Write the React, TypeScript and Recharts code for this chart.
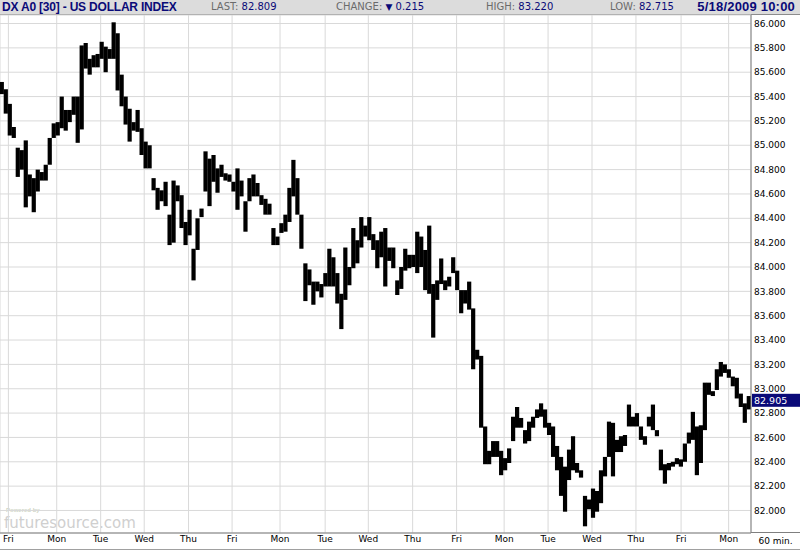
import React from 'react';
import { ComposedChart, Bar, XAxis, YAxis, CartesianGrid, ReferenceLine } from 'recharts';

// 2-hour range bars (high / low)
const barHighs = [
  85.52, 85.46, 85.34, 85.15, 84.98, 84.96, 85.04, 84.76, 84.73, 84.80,
  84.78, 84.84, 85.06, 85.18, 85.19, 85.40, 85.29, 85.29, 85.40, 85.40,
  85.82, 85.84, 85.71, 85.74, 85.75, 85.85, 85.81, 85.79, 86.01, 85.92,
  85.58, 85.40, 85.30, 85.19, 85.29, 85.14, 85.03, 85.00, 84.73, 84.65,
  84.63, 84.70, 84.43, 84.71, 84.67, 84.59, 84.37, 84.47, 84.15, 84.40,
  84.48, 84.95, 84.89, 84.92, 84.81, 84.84, 84.77, 84.76, 84.70, 84.81,
  84.71, 84.54, 84.73, 84.76, 84.69, 84.59, 84.56, 84.52, 84.32, 84.25,
  84.36, 84.43, 84.65, 84.88, 84.73, 84.43, 84.03, 83.98, 83.88, 83.88,
  83.86, 83.95, 84.15, 84.08, 83.95, 83.78, 84.16, 84.00, 84.32, 84.22,
  84.41, 84.34, 84.41, 84.27, 84.22, 84.29, 84.32, 84.16, 84.16, 83.89,
  84.00, 84.15, 84.10, 84.10, 84.29, 84.25, 84.14, 84.34, 83.86, 83.89,
  84.07, 83.89, 83.92, 84.08, 83.97, 83.81, 83.81, 83.88, 83.66, 83.32,
  83.27, 82.69, 82.49, 82.57, 82.57, 82.49, 82.43, 82.51, 82.77, 82.85,
  82.76, 82.66, 82.73, 82.77, 82.83, 82.88, 82.83, 82.72, 82.69, 82.53,
  82.44, 82.36, 82.50, 82.61, 82.39, 82.33, 82.12, 82.09, 82.18, 82.16,
  82.33, 82.44, 82.73, 82.72, 82.58, 82.61, 82.62, 82.87, 82.77, 82.80,
  82.69, 82.61, 82.77, 82.87, 82.66, 82.50, 82.38, 82.39, 82.40, 82.43,
  82.42, 82.55, 82.64, 82.81, 82.69, 82.70, 83.05, 83.05, 82.98, 83.16,
  83.22, 83.20, 83.16, 83.10, 83.09, 82.96, 82.88, 82.94,
];
const barLows = [
  85.42, 85.26, 85.08, 85.06, 84.74, 84.80, 84.49, 84.58, 84.45, 84.62,
  84.71, 84.71, 84.84, 85.06, 85.08, 85.14, 85.12, 85.19, 85.25, 85.02,
  85.13, 85.63, 85.58, 85.64, 85.64, 85.71, 85.60, 85.71, 85.71, 85.45,
  85.32, 85.17, 85.03, 85.12, 85.11, 84.92, 84.81, 84.81, 84.63, 84.47,
  84.54, 84.50, 84.18, 84.20, 84.54, 84.32, 84.18, 84.26, 83.89, 84.14,
  84.41, 84.62, 84.50, 84.70, 84.61, 84.74, 84.71, 84.70, 84.62, 84.47,
  84.58, 84.29, 84.54, 84.58, 84.58, 84.51, 84.43, 84.43, 84.18, 84.18,
  84.28, 84.29, 84.37, 84.58, 84.43, 84.15, 83.72, 83.85, 83.69, 83.80,
  83.75, 83.84, 83.84, 83.84, 83.70, 83.49, 83.73, 83.85, 83.99, 84.03,
  84.16, 84.25, 84.22, 84.14, 83.99, 84.08, 83.84, 84.05, 83.99, 83.77,
  83.82, 83.97, 83.99, 84.00, 83.95, 84.00, 83.81, 83.78, 83.42, 83.73,
  83.86, 83.81, 83.84, 83.95, 83.81, 83.62, 83.70, 83.65, 83.16, 83.24,
  82.68, 82.38, 82.38, 82.44, 82.44, 82.29, 82.33, 82.39, 82.57, 82.68,
  82.68, 82.55, 82.57, 82.68, 82.76, 82.77, 82.68, 82.62, 82.44, 82.33,
  82.12, 81.99, 82.25, 82.33, 82.31, 82.27, 81.87, 82.01, 81.94, 81.99,
  82.06, 82.28, 82.44, 82.28, 82.48, 82.48, 82.53, 82.69, 82.69, 82.69,
  82.58, 82.54, 82.69, 82.66, 82.61, 82.33, 82.22, 82.33, 82.36, 82.38,
  82.36, 82.40, 82.55, 82.58, 82.29, 82.39, 82.66, 82.95, 82.94, 82.99,
  83.10, 83.13, 83.09, 83.02, 82.92, 82.85, 82.72, 82.83,
];

const dayLabels = ['Fri', 'Mon', 'Tue', 'Wed', 'Thu', 'Fri', 'Mon', 'Tue', 'Wed', 'Thu', 'Fri', 'Mon', 'Tue', 'Wed', 'Thu', 'Fri', 'Mon'];
// bar index (fractional) at which each session starts
const dayStartBars = [1.6, 13.7, 24.7, 35.6, 46.7, 57.6, 69.6, 80.9, 91.7, 102.8, 113.8, 125.7, 136.7, 147.7, 158.7, 170.0, 181.9];

const priceTicks = [82.0, 82.2, 82.4, 82.6, 82.8, 83.0, 83.2, 83.4, 83.6, 83.8, 84.0, 84.2, 84.4, 84.6, 84.8, 85.0, 85.2, 85.4, 85.6, 85.8, 86.0];
const lastPrice = 82.905;

const headerTitle = 'DX A0 [30] - US DOLLAR INDEX';
const headerLast = '82.809';
const headerChange = '0.215';
const headerHigh = '83.220';
const headerLow = '82.715';
const headerStamp = '5/18/2009 10:00';
const intervalLabel = '60 min.';

const data = barHighs.map((h, i) => ({ bar: i, range: [barLows[i], h] }));

const NAVY = '#0a0a78';
const GREY_TXT = '#6b6b6b';
const FONT = '"DejaVu Sans", Verdana, sans-serif';
const BOLD_FONT = '"Liberation Sans", Arial, sans-serif';
const SLOT_PX = 4.2;

const LastTag = (props: any) => {
  const vb = props.viewBox || {};
  const right = (vb.x || 0) + (vb.width || 0);
  const y = vb.y || 0;
  return (
    <g>
      <rect x={right + 1} y={y - 6.5} width={48} height={13} fill={NAVY} />
      <text x={right + 3} y={y + 3.5} fill="#fff" fontSize={9.5} fontFamily={FONT}>
        {lastPrice.toFixed(3)}
      </text>
    </g>
  );
};

const RangeShape = (p: any) => {
  const hgt = p.height || 0;
  const h = Math.max(Math.abs(hgt), 1);
  const y = hgt < 0 ? p.y + hgt : p.y;
  const cx = (p.x || 0) + (p.width || 0) / 2;
  return <rect x={cx - SLOT_PX / 2} y={y} width={SLOT_PX} height={h} fill="#000" />;
};

const abs = (extra: any) => ({ position: 'absolute' as const, ...extra });

export default function App() {
  return (
    <div style={{ position: 'absolute', left: 0, top: 0, width: 800, height: 550, background: '#fff', overflow: 'hidden' }}>
      {/* header bar */}
      <div style={abs({ left: 0, top: 0, width: 800, height: 14, background: '#dcdcdc', borderBottom: '1px solid #8c8c8c' })} />
      <div style={abs({ left: 2, top: 0, fontFamily: BOLD_FONT, fontWeight: 'bold', fontSize: 12, letterSpacing: -0.2, color: NAVY, lineHeight: '14px', whiteSpace: 'nowrap' })}>{headerTitle}</div>
      <div style={abs({ left: 211, top: 0, fontFamily: FONT, fontSize: 10, lineHeight: '14px', whiteSpace: 'nowrap' })}>
        <span style={{ color: GREY_TXT }}>LAST: </span><span style={{ color: NAVY }}>{headerLast}</span>
      </div>
      <div style={abs({ left: 336, top: 0, fontFamily: FONT, fontSize: 10, lineHeight: '14px', whiteSpace: 'nowrap' })}>
        <span style={{ color: GREY_TXT }}>CHANGE: </span><span style={{ color: NAVY, fontSize: 9 }}>▼</span><span style={{ color: NAVY }}> {headerChange}</span>
      </div>
      <div style={abs({ left: 486, top: 0, fontFamily: FONT, fontSize: 10, lineHeight: '14px', whiteSpace: 'nowrap' })}>
        <span style={{ color: GREY_TXT }}>HIGH: </span><span style={{ color: NAVY }}>{headerHigh}</span>
      </div>
      <div style={abs({ left: 610, top: 0, fontFamily: FONT, fontSize: 10, lineHeight: '14px', whiteSpace: 'nowrap' })}>
        <span style={{ color: GREY_TXT }}>LOW: </span><span style={{ color: NAVY }}>{headerLow}</span>
      </div>
      <div style={abs({ right: 5, top: 0, fontFamily: BOLD_FONT, fontWeight: 'bold', fontSize: 13, letterSpacing: 0.2, color: NAVY, lineHeight: '14px', whiteSpace: 'nowrap' })}>{headerStamp}</div>

      {/* watermark */}
      <div style={abs({ left: 6, top: 507, fontFamily: BOLD_FONT, fontWeight: 'bold', fontSize: 6, color: '#cfd6c6', whiteSpace: 'nowrap', lineHeight: '7px' })}>Powered by</div>
      <div style={abs({ left: 4, top: 516, fontFamily: FONT, fontSize: 15, color: '#cfcfcf', whiteSpace: 'nowrap', lineHeight: '15px' })}>futuresource.com</div>

      <div style={abs({ left: 0, top: 0 })}>
        <ComposedChart width={800} height={550} data={data} margin={{ top: 15, right: 0, bottom: 1, left: 0 }}>
          <CartesianGrid stroke="#d9d9d9" strokeWidth={1} />
          <XAxis
            dataKey="bar"
            type="number"
            domain={[-0.5, 187.5]}
            ticks={dayStartBars}
            interval={0}
            allowDataOverflow
            tickFormatter={(v: number) => dayLabels[dayStartBars.indexOf(v)] ?? ''}
            height={16}
            axisLine={{ stroke: '#7f7f7f' }}
            tickLine={false}
            tickSize={0}
            tickMargin={3}
            tick={{ fontSize: 9, fill: '#000', fontFamily: FONT }}
          />
          <YAxis
            orientation="right"
            type="number"
            domain={[81.815, 86.07]}
            ticks={priceTicks}
            interval={0}
            allowDataOverflow
            tickFormatter={(v: number) => v.toFixed(3)}
            width={49}
            axisLine={{ stroke: '#7f7f7f' }}
            tickLine={false}
            tickSize={0}
            tickMargin={3}
            tick={{ fontSize: 9, fill: '#000', fontFamily: FONT }}
          />
          <Bar dataKey="range" fill="#000" barSize={4} shape={<RangeShape />} isAnimationActive={false} />
          <ReferenceLine y={lastPrice} stroke="none" label={<LastTag />} />
        </ComposedChart>
      </div>

      {/* axis box lines */}
      <div style={abs({ left: 751, top: 532, width: 49, height: 1, background: '#7f7f7f' })} />
      <div style={abs({ left: 0, top: 549, width: 800, height: 1, background: '#a0a0a0' })} />
      <div style={abs({ left: 751, top: 533, width: 49, height: 16, fontFamily: FONT, fontSize: 9, color: '#000', lineHeight: '16px', textAlign: 'center' })}>{intervalLabel}</div>
    </div>
  );
}
